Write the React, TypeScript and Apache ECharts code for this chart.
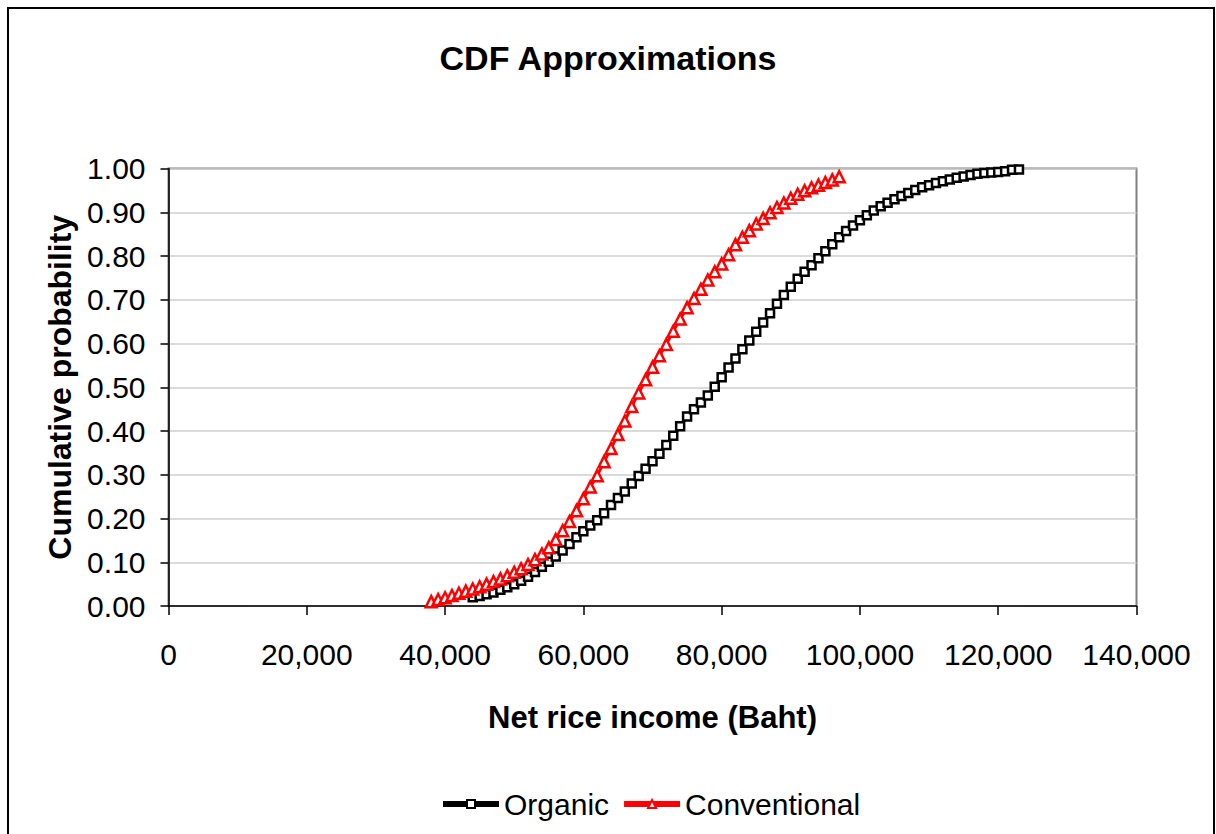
import React, { useEffect, useRef } from "react";
import * as echarts from "echarts";

// Net rice income (Baht) and cumulative probability
const organicX = [
  44000, 45000, 46000, 47000, 48000, 49000, 50000, 51000, 52000, 53000,
  54000, 55000, 56000, 57000, 58000, 59000, 60000, 61000, 62000, 63000,
  64000, 65000, 66000, 67000, 68000, 69000, 70000, 71000, 72000, 73000,
  74000, 75000, 76000, 77000, 78000, 79000, 80000, 81000, 82000, 83000,
  84000, 85000, 86000, 87000, 88000, 89000, 90000, 91000, 92000, 93000,
  94000, 95000, 96000, 97000, 98000, 99000, 100000, 101000, 102000, 103000,
  104000, 105000, 106000, 107000, 108000, 109000, 110000, 111000, 112000, 113000,
  114000, 115000, 116000, 117000, 118000, 119000, 120000, 121000, 122000, 123000,
];
const organicP = [
  0.020, 0.023, 0.027, 0.031, 0.037, 0.043, 0.050, 0.058, 0.067, 0.078,
  0.090, 0.101, 0.113, 0.127, 0.142, 0.157, 0.171, 0.184, 0.196, 0.212,
  0.231, 0.247, 0.262, 0.280, 0.297, 0.314, 0.331, 0.348, 0.368, 0.389,
  0.411, 0.433, 0.450, 0.465, 0.481, 0.501, 0.523, 0.545, 0.566, 0.587,
  0.607, 0.627, 0.648, 0.669, 0.691, 0.711, 0.730, 0.748, 0.764, 0.779,
  0.795, 0.811, 0.827, 0.843, 0.857, 0.870, 0.882, 0.893, 0.904, 0.914,
  0.922, 0.930, 0.937, 0.944, 0.951, 0.957, 0.962, 0.967, 0.971, 0.975,
  0.979, 0.982, 0.985, 0.988, 0.990, 0.991, 0.992, 0.994, 0.997, 0.998,
];

const conventionalX = [
  38000, 39000, 40000, 41000, 42000, 43000, 44000, 45000, 46000, 47000,
  48000, 49000, 50000, 51000, 52000, 53000, 54000, 55000, 56000, 57000,
  58000, 59000, 60000, 61000, 62000, 63000, 64000, 65000, 66000, 67000,
  68000, 69000, 70000, 71000, 72000, 73000, 74000, 75000, 76000, 77000,
  78000, 79000, 80000, 81000, 82000, 83000, 84000, 85000, 86000, 87000,
  88000, 89000, 90000, 91000, 92000, 93000, 94000, 95000, 96000, 97000,
];
const conventionalP = [
  0.010, 0.015, 0.019, 0.024, 0.029, 0.034, 0.039, 0.044, 0.050, 0.056,
  0.062, 0.069, 0.077, 0.085, 0.095, 0.106, 0.119, 0.133, 0.152, 0.172,
  0.193, 0.218, 0.245, 0.272, 0.298, 0.330, 0.360, 0.392, 0.423, 0.456,
  0.487, 0.517, 0.546, 0.572, 0.598, 0.628, 0.656, 0.682, 0.703, 0.724,
  0.745, 0.764, 0.782, 0.803, 0.826, 0.843, 0.858, 0.873, 0.886, 0.899,
  0.911, 0.921, 0.932, 0.941, 0.949, 0.956, 0.962, 0.968, 0.974, 0.981,
];

const seriesNames = ["Organic", "Conventional"];
const FONT = "'Liberation Sans', Arial, Helvetica, sans-serif";

export default function App() {
  const ref = useRef<HTMLDivElement>(null);
  useEffect(() => {
    document.body.style.margin = "0";
    const chart = echarts.init(ref.current!, null, { renderer: "svg" });
    chart.setOption({
      animation: false,
      backgroundColor: "#fff",
      textStyle: { fontFamily: FONT },
      title: {
        text: "CDF Approximations",
        left: "center",
        top: 41,
        padding: 0,
        textStyle: { fontFamily: FONT, fontSize: 34, fontWeight: "bold", color: "#000" },
      },
      graphic: [
        {
          type: "rect",
          shape: { x: 8, y: 8, width: 1206, height: 840 },
          style: { fill: "none", stroke: "#000", lineWidth: 2 },
          silent: true,
        },
      ],
      grid: {
        left: 168.5,
        top: 168.5,
        right: 79.5,
        bottom: 228,
        show: true,
        backgroundColor: "#fff",
        borderColor: "#808080",
        borderWidth: 2,
      },
      legend: {
        data: seriesNames,
        left: 440,
        top: 789,
        padding: 0,
        itemWidth: 56,
        itemHeight: 10,
        itemGap: 12,
        textStyle: { fontFamily: FONT, fontSize: 30, color: "#000" },
        lineStyle: { width: 6 },
      },
      xAxis: {
        type: "value",
        min: 0,
        max: 140000,
        interval: 20000,
        name: "Net rice income (Baht)",
        nameLocation: "middle",
        nameGap: 96,
        nameTextStyle: { fontFamily: FONT, fontSize: 31, fontWeight: "bold", color: "#000" },
        axisLine: { show: true, onZero: false, lineStyle: { color: "#000", width: 1.5 } },
        axisTick: { show: true, inside: false, length: 9, lineStyle: { color: "#000", width: 1.5 } },
        axisLabel: {
          margin: 33,
          fontFamily: FONT,
          fontSize: 30,
          color: "#000",
          formatter: (v: number) => v.toLocaleString("en-US"),
        },
        splitLine: { show: false },
      },
      yAxis: {
        type: "value",
        min: 0,
        max: 1,
        interval: 0.1,
        name: "Cumulative probability",
        nameLocation: "middle",
        nameRotate: 90,
        nameGap: 88,
        nameTextStyle: { fontFamily: FONT, fontSize: 32, fontWeight: "bold", color: "#000" },
        axisLine: { show: true, lineStyle: { color: "#000", width: 1.5 } },
        axisTick: { show: true, inside: false, length: 8, lineStyle: { color: "#000", width: 1.5 } },
        axisLabel: {
          margin: 23,
          fontFamily: FONT,
          fontSize: 30,
          color: "#000",
          formatter: (v: number) => v.toFixed(2),
        },
        splitLine: { show: true, lineStyle: { color: "#cfcfcf", width: 1.5 } },
      },
      series: [
        {
          name: seriesNames[0],
          type: "line",
          data: organicX.map((x, i) => [x, organicP[i]]),
          symbol: "rect",
          symbolSize: 8,
          showAllSymbol: true,
          lineStyle: { color: "#000", width: 3 },
          itemStyle: { color: "#fff", borderColor: "#000", borderWidth: 2.5 },
          z: 2,
        },
        {
          name: seriesNames[1],
          type: "line",
          data: conventionalX.map((x, i) => [x, conventionalP[i]]),
          symbol: "triangle",
          symbolSize: 11,
          showAllSymbol: true,
          lineStyle: { color: "#ff0000", width: 3 },
          itemStyle: { color: "#fff", borderColor: "#ff0000", borderWidth: 2.5 },
          z: 3,
        },
      ],
    });
    return () => chart.dispose();
  }, []);
  return (
    <div
      ref={ref}
      style={{ position: "absolute", left: 0, top: 0, width: 1216, height: 834 }}
    />
  );
}
